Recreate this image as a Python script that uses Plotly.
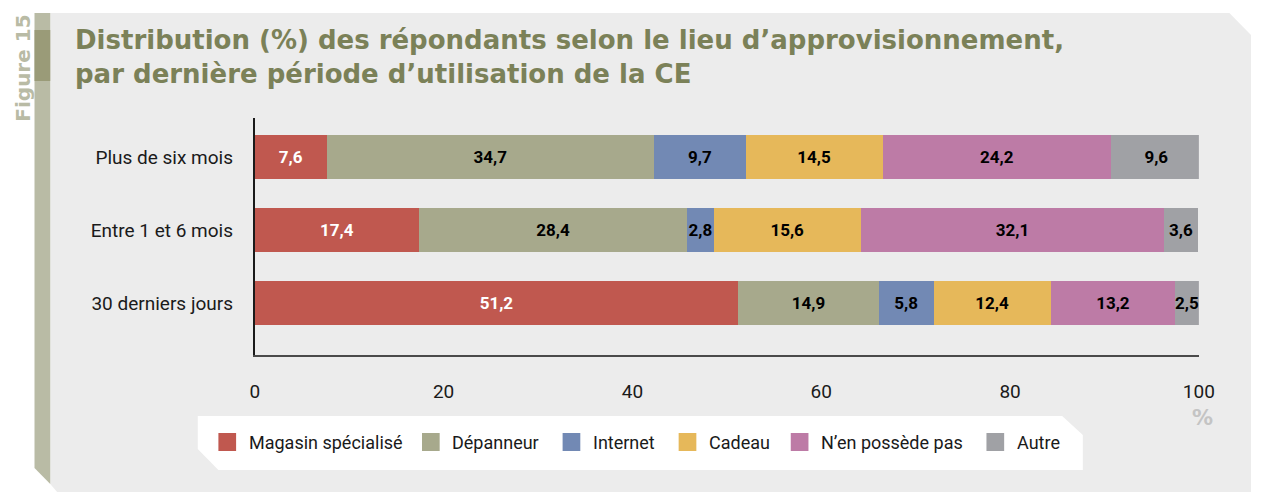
import plotly.graph_objects as go

W, H = 1267, 492

categories = ["30 derniers jours", "Entre 1 et 6 mois", "Plus de six mois"]
series_names = ["Magasin spécialisé", "Dépanneur", "Internet", "Cadeau", "N\u2019en possède pas", "Autre"]
magasin = [51.2, 17.4, 7.6]
depanneur = [14.9, 28.4, 34.7]
internet = [5.8, 2.8, 9.7]
cadeau = [12.4, 15.6, 14.5]
nenpossede = [13.2, 32.1, 24.2]
autre = [2.5, 3.6, 9.6]
x_ticks = [0, 20, 40, 60, 80, 100]

series_values = [magasin, depanneur, internet, cadeau, nenpossede, autre]
colors = ["#c0584f", "#a7a98c", "#7289b4", "#e6b85a", "#bd7ba6", "#a0a1a5"]
text_colors = ["white", "black", "black", "black", "black", "black"]
legend_sq_x = [217, 424, 567, 685, 799, 998]

FONT = "Roboto, sans-serif"
TFONT = "DejaVu Sans, sans-serif"


def px(x):
    return x / W


def py(y):
    return 1 - y / H


def fmt(v):
    return f"{v:.1f}".replace(".", ",")


fig = go.Figure()
for name, vals, col, tc in zip(series_names, series_values, colors, text_colors):
    fig.add_trace(go.Bar(
        y=categories, x=vals, name=name, orientation="h",
        marker=dict(color=col, line=dict(width=0)),
        width=0.6,
        text=[fmt(v) for v in vals], textposition="inside", textangle=0,
        insidetextanchor="middle", constraintext="none",
        textfont=dict(family=FONT, size=17, color=tc, weight="bold"),
        showlegend=False, hoverinfo="skip",
    ))


def path(points):
    s = "M" + " L".join(f"{px(x):.5f},{py(y):.5f}" for x, y in points) + " Z"
    return s


shapes = [
    dict(type="path", xref="paper", yref="paper", layer="below",
         path=path([(46, 13), (1245, 13), (1267, 35), (1267, 492), (53, 492), (46, 484)]),
         fillcolor="#ececec", line=dict(width=0)),
    dict(type="path", xref="paper", yref="paper", layer="below",
         path=path([(30, 13), (46, 13), (46, 484), (30, 468)]),
         fillcolor="#b9bba5", line=dict(width=0)),
    dict(type="rect", xref="paper", yref="paper", layer="below",
         x0=px(30), x1=px(46), y0=py(81), y1=py(30),
         fillcolor="#9a9b78", line=dict(width=0)),
    dict(type="path", xref="paper", yref="paper", layer="below",
         path=path([(196, 416), (1075, 416), (1096, 435), (1096, 470), (217, 470), (196, 449)]),
         fillcolor="white", line=dict(width=0)),
]

annotations = [
    dict(text="<b>Distribution (%) des répondants selon le lieu d\u2019approvisionnement,<br>par dernière période d\u2019utilisation de la CE</b>",
         x=px(69), y=py(23), xref="paper", yref="paper", xanchor="left", yanchor="top",
         align="left", showarrow=False,
         font=dict(family=TFONT, size=26, color="#7b8158")),
    dict(text="<b>Figure 15</b>", textangle=-90,
         x=px(18), y=py(68), xref="paper", yref="paper", xanchor="center", yanchor="middle",
         showarrow=False, font=dict(family=TFONT, size=20, color="#b9bba5")),
    dict(text="<b>%</b>", x=px(1218), y=py(418), xref="paper", yref="paper",
         xanchor="center", yanchor="middle", showarrow=False,
         font=dict(family=TFONT, size=21, color="#c4c4c4")),
]

for name, col, sx in zip(series_names, colors, legend_sq_x):
    shapes.append(dict(type="rect", xref="paper", yref="paper",
                       x0=px(sx), x1=px(sx + 18), y0=py(451), y1=py(433),
                       fillcolor=col, line=dict(width=0)))
    annotations.append(dict(text=name, x=px(sx + 29), y=py(442), xref="paper", yref="paper",
                            xanchor="left", yanchor="middle", showarrow=False,
                            font=dict(family=FONT, size=18, color="#1a1a1a")))

fig.update_layout(
    width=W, height=H, autosize=False,
    margin=dict(l=0, r=0, t=0, b=0),
    paper_bgcolor="white", plot_bgcolor="rgba(0,0,0,0)",
    barmode="stack", bargap=0.4,
    shapes=shapes, annotations=annotations,
    xaxis=dict(domain=[px(254), px(1214)], range=[0, 100], tickvals=x_ticks,
               ticktext=[str(t) for t in x_ticks], showgrid=False, zeroline=False,
               showline=True, linecolor="#4a4a4a", linewidth=2, ticks="",
               ticklabelstandoff=18,
               tickfont=dict(family=FONT, size=19, color="#1a1a1a")),
    yaxis=dict(domain=[py(355), py(118)], range=[-0.712, 2.534],
               categoryorder="array", categoryarray=categories,
               showgrid=False, zeroline=False, showline=True, linecolor="#1a1a1a",
               linewidth=2, ticks="", ticklabelstandoff=16,
               tickfont=dict(family=FONT, size=19, color="#1a1a1a")),
    font=dict(family=FONT),
)

fig.write_html(
    "out.html",
    config={"responsive": False, "displayModeBar": False},
    default_width="1267px", default_height="492px",
    post_script="document.body.style.margin='0';document.body.style.overflow='hidden';",
)
